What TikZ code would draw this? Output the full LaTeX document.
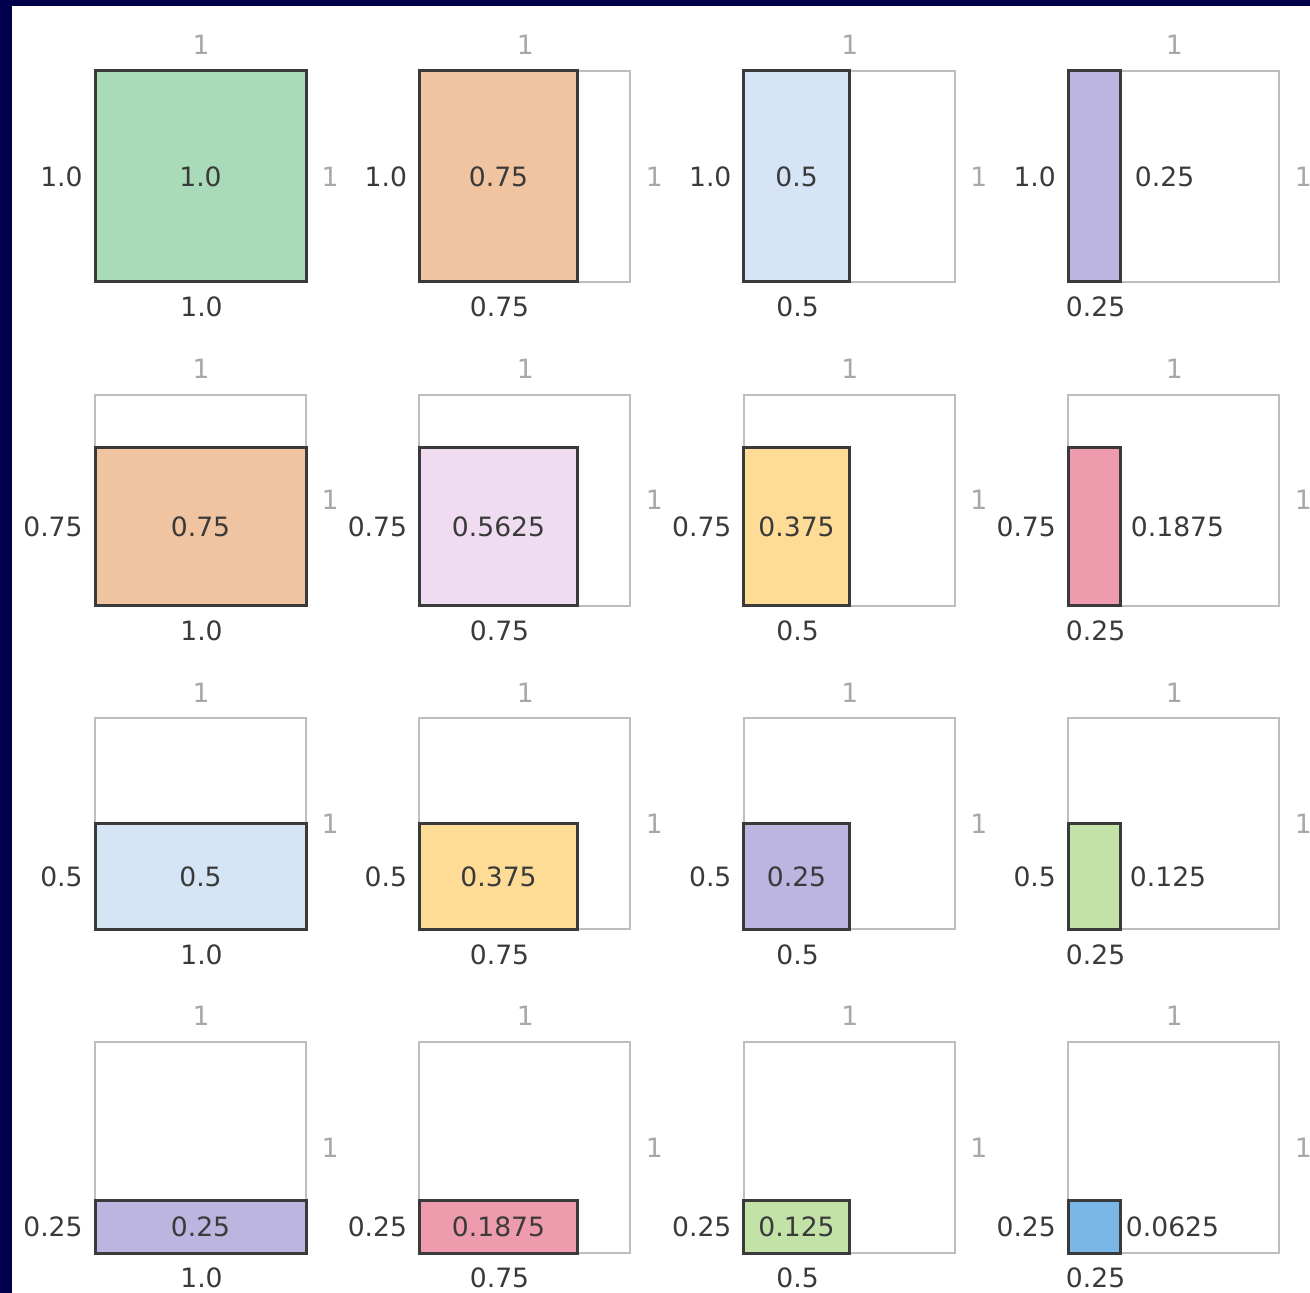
\documentclass[tikz,border=0pt]{standalone}
\usepackage{fontspec}
\setmainfont{DejaVu Sans}
\definecolor{navy}{HTML}{00004C}
\definecolor{cgreen}{HTML}{AADBB8}
\definecolor{cpeach}{HTML}{F0C4A0}
\definecolor{clblue}{HTML}{D5E5F6}
\definecolor{clav}{HTML}{BBB5E0}
\definecolor{clpink}{HTML}{EFDCF0}
\definecolor{cyellow}{HTML}{FFDC96}
\definecolor{cpink}{HTML}{EF9BAE}
\definecolor{clgreen}{HTML}{C2E2A8}
\definecolor{cblue}{HTML}{7AB6E6}
\definecolor{txt}{HTML}{3A3A3A}
\definecolor{gtxt}{HTML}{A8A8A8}
\definecolor{gline}{HTML}{BEBEBE}
\tikzset{
  outerbox/.style={draw=gline, line width=1pt, inner sep=0pt, outer sep=0pt, anchor=north west,
    minimum width=105.5pt, minimum height=105.5pt},
  fillbox/.style={draw=txt, line width=1.5pt, inner sep=0pt, outer sep=0pt, anchor=south west},
  lbl/.style={text=txt, font=\fontsize{13.3}{15}\selectfont, inner sep=0pt},
  glbl/.style={text=gtxt, font=\fontsize{13.3}{15}\selectfont, inner sep=0pt},
}
\newcommand{\mkcell}[9]{%
  \pgfmathsetmacro\cX{95+324.4*#2}%
  \pgfmathsetmacro\cYt{71+323.7*#1}%
  \pgfmathsetmacro\cYb{\cYt+211}%
  \pgfmathsetmacro\cYm{\cYb-105.5*#4}%
  \pgfmathsetmacro\cXm{\cX+105.5*#3}%
  \node[outerbox] (o#1#2) at (\cX,\cYt) {};
  \node[fillbox, fill=#7, minimum width={105.5pt*#3}, minimum height={105.5pt*#4}] (f#1#2) at (\cX,\cYb) {};
  \node[glbl] (t#1#2) at (\cX+106,\cYt-26) {1};
  \node[glbl] (r#1#2) at (\cX+235,\cYt+105.5) {1};
  \node[lbl, anchor=east] (h#1#2) at (\cX-12,\cYm) {#6};
  \node[lbl] (w#1#2) at (\cXm+1,\cYb+25) {#5};
  \node[lbl, #9] (p#1#2) at (f#1#2.center) {#8};
}
\begin{document}
\begin{tikzpicture}[x=0.5pt,y=-0.5pt]
\useasboundingbox (0,0) rectangle (1310,1293);
\fill[white] (0,0) rectangle (1310,1293);
\fill[navy] (0,0) rectangle (12,1293);
\fill[navy] (0,0) rectangle (1310,6);
% row 0 (h = 1.0)
\mkcell{0}{0}{1}{1}{1.0}{1.0}{cgreen}{1.0}{}
\mkcell{0}{1}{0.75}{1}{0.75}{1.0}{cpeach}{0.75}{}
\mkcell{0}{2}{0.5}{1}{0.5}{1.0}{clblue}{0.5}{}
\mkcell{0}{3}{0.25}{1}{0.25}{1.0}{clav}{0.25}{anchor=west, xshift=20pt}
% row 1 (h = 0.75)
\mkcell{1}{0}{1}{0.75}{1.0}{0.75}{cpeach}{0.75}{}
\mkcell{1}{1}{0.75}{0.75}{0.75}{0.75}{clpink}{0.5625}{}
\mkcell{1}{2}{0.5}{0.75}{0.5}{0.75}{cyellow}{0.375}{}
\mkcell{1}{3}{0.25}{0.75}{0.25}{0.75}{cpink}{0.1875}{anchor=west, xshift=18pt}
% row 2 (h = 0.5)
\mkcell{2}{0}{1}{0.5}{1.0}{0.5}{clblue}{0.5}{}
\mkcell{2}{1}{0.75}{0.5}{0.75}{0.5}{cyellow}{0.375}{}
\mkcell{2}{2}{0.5}{0.5}{0.5}{0.5}{clav}{0.25}{}
\mkcell{2}{3}{0.25}{0.5}{0.25}{0.5}{clgreen}{0.125}{anchor=west, xshift=17.5pt}
% row 3 (h = 0.25)
\mkcell{3}{0}{1}{0.25}{1.0}{0.25}{clav}{0.25}{}
\mkcell{3}{1}{0.75}{0.25}{0.75}{0.25}{cpink}{0.1875}{}
\mkcell{3}{2}{0.5}{0.25}{0.5}{0.25}{clgreen}{0.125}{}
\mkcell{3}{3}{0.25}{0.25}{0.25}{0.25}{cblue}{0.0625}{anchor=west, xshift=15.5pt}
\end{tikzpicture}
\end{document}
